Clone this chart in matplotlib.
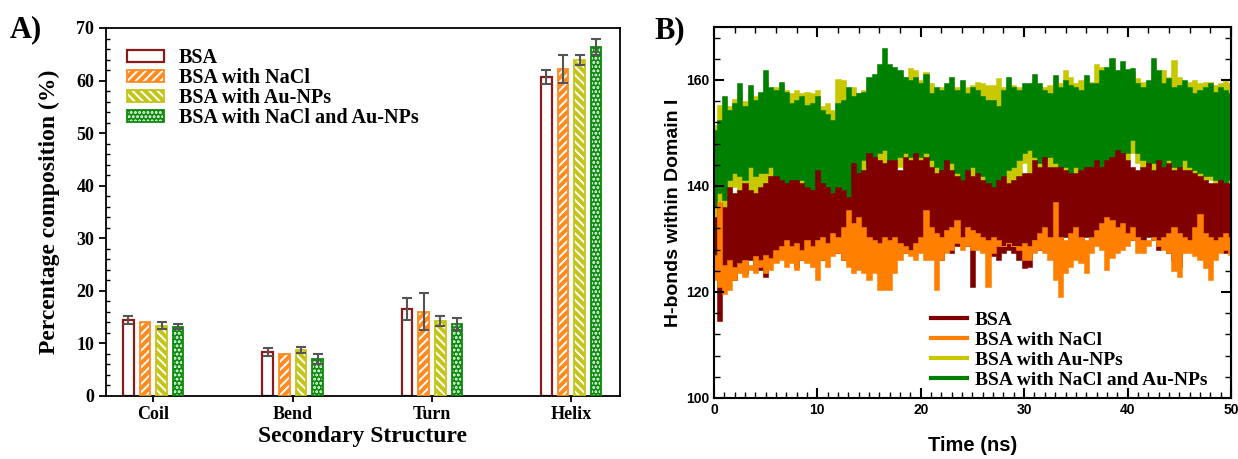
import numpy as np
import matplotlib
matplotlib.use('Agg')
import matplotlib.pyplot as plt
from matplotlib.patches import Patch
from matplotlib.lines import Line2D
from matplotlib.legend_handler import HandlerTuple
from matplotlib.ticker import MultipleLocator

# ---------------- Panel A data ----------------
structures = ['Coil', 'Bend', 'Turn', 'Helix']
systems = ['BSA', 'BSA with NaCl', 'BSA with Au-NPs', 'BSA with NaCl and Au-NPs']
comp_bsa = [14.5, 8.4, 16.5, 60.7]
err_bsa = [0.75, 0.7, 2.1, 1.3]
comp_nacl = [14.0, 8.0, 16.0, 62.2]
err_nacl = [np.nan, np.nan, 3.5, 2.7]
comp_au = [13.4, 8.8, 14.3, 63.9]
err_au = [0.6, 0.6, 1.0, 0.95]
comp_both = [13.2, 7.0, 13.7, 66.4]
err_both = [0.5, 0.95, 1.1, 1.5]

# ---------------- Panel B data (envelopes read every 0.5 ns) ----------------
time_ns = np.linspace(0, 50, 101)
green_hi = [150.6,152.5,156.9,154.3,155.6,159.4,155.0,159.0,156.2,157.8,161.9,158.7,158.1,159.7,157.8,155.6,156.2,156.9,155.3,155.6,
            156.9,154.3,153.5,152.5,155.6,156.2,158.7,156.9,157.5,157.8,160.6,161.2,163.1,166.0,163.0,162.5,161.9,160.6,160.0,160.6,
            159.4,161.2,157.5,158.7,158.1,159.4,160.6,158.1,160.0,157.5,158.7,158.1,156.9,156.2,156.2,155.0,158.1,160.6,158.7,158.1,
            159.4,159.4,161.2,159.4,158.1,157.5,161.0,158.7,160.0,159.0,158.7,158.1,161.0,159.4,159.4,161.9,162.5,164.1,161.9,163.5,
            162.0,162.2,159.4,158.7,160.0,164.1,161.9,159.4,160.3,158.7,159.0,160.0,158.7,157.5,158.1,158.7,159.4,157.8,158.7,158.1,
            157.5]
green_lo = [136.1,138.6,137.4,141.1,142.4,141.8,141.1,143.6,141.8,142.4,142.4,143.6,141.1,140.5,139.9,138.6,139.9,141.1,139.9,138.6,
            140.0,139.2,138.6,138.6,139.9,139.2,137.4,139.9,141.8,144.9,143.6,144.3,146.2,146.8,144.3,144.9,145.5,146.2,145.5,144.9,
            145.5,146.2,144.9,143.6,141.8,141.1,144.3,142.4,141.1,141.8,143.6,142.4,141.8,139.9,139.2,135.5,141.8,143.0,143.6,144.9,
            146.2,146.8,145.5,144.3,144.9,145.5,144.3,143.6,143.6,137.4,143.6,143.0,141.8,142.4,144.3,143.0,144.9,145.5,146.2,144.9,
            146.2,148.7,146.2,144.9,143.6,144.3,144.3,143.0,144.9,143.6,143.6,144.9,143.6,143.0,142.4,141.8,141.8,141.1,140.5,139.9,
            141.1]
yellow_hi = [151.5,155.3,156.0,155.0,156.5,158.0,156.0,158.0,156.9,157.5,160.0,158.0,158.7,159.0,158.1,157.5,158.1,157.5,157.8,157.5,
             158.1,155.0,155.6,154.3,160.2,160.0,158.1,158.7,157.5,158.1,159.4,160.0,161.2,163.0,162.0,161.9,161.2,160.6,162.2,161.9,
             160.0,161.6,159.4,158.1,158.7,158.1,159.7,158.7,159.4,158.7,159.1,159.7,159.4,159.1,159.0,160.3,158.7,159.4,159.1,158.7,
             158.7,158.7,160.0,158.7,158.7,159.1,160.3,159.4,161.9,160.6,159.4,160.0,160.3,159.7,163.1,162.5,161.9,162.5,161.2,162.2,
             161.6,161.6,160.3,159.7,159.4,162.5,161.2,161.9,160.6,163.8,160.6,159.4,159.7,160.0,159.4,159.7,159.7,159.1,159.4,159.8,
             159.4]
yellow_lo = [134.2,135.5,136.1,138.6,139.9,138.6,137.4,135.5,135.5,137.4,137.4,140.0,136.1,138.0,138.6,137.4,139.2,138.6,139.2,138.6,
             140.0,141.1,139.9,139.2,138.6,139.2,137.4,138.6,139.9,139.9,141.8,141.1,142.4,143.0,141.8,142.4,143.6,143.0,144.3,143.6,
             144.3,144.9,142.4,140.5,139.9,139.9,141.8,141.1,139.9,140.5,141.1,139.9,139.9,139.2,138.6,139.2,139.9,139.9,139.9,141.1,
             144.3,138.0,141.8,143.6,143.0,143.6,143.6,141.8,143.0,141.8,142.4,141.8,141.8,141.1,143.0,142.4,143.6,143.6,141.8,139.2,
             144.9,146.2,144.3,143.6,143.0,142.4,141.8,140.5,138.6,140.5,142.4,141.1,138.6,140.5,141.1,140.5,141.1,140.5,139.9,139.2,
             139.9]
red_hi = [134.2,136.7,136.1,139.9,138.6,139.2,140.5,139.2,138.6,139.9,140.5,141.8,141.8,141.1,140.5,141.1,141.1,140.5,139.9,139.2,
          143.0,140.5,139.9,138.6,139.9,139.2,138.0,144.3,142.4,143.0,146.2,145.5,144.9,144.3,144.9,144.9,143.0,145.5,144.9,146.2,
          144.9,145.5,143.6,142.4,143.0,144.9,143.0,141.8,141.1,143.0,141.8,142.4,141.1,140.5,139.9,141.1,141.8,140.5,141.1,141.8,
          142.4,142.4,144.9,143.6,145.5,143.6,143.6,143.6,143.0,142.4,142.4,143.0,143.6,143.6,144.9,143.6,144.9,145.5,146.8,146.2,
          144.9,143.6,143.0,143.6,144.3,143.0,144.9,143.6,144.3,143.0,143.6,143.0,143.0,142.4,141.8,141.1,140.5,140.5,141.1,140.5,
          140.5]
red_lo = [124.8,114.5,121.0,123.5,122.3,124.8,123.5,126.0,124.2,124.2,122.9,126.0,127.3,127.3,127.3,126.7,124.8,126.0,127.3,126.0,
          126.7,126.0,128.6,127.3,127.3,126.0,127.3,127.9,128.6,129.8,129.2,128.6,127.9,129.2,128.6,129.2,128.6,127.3,127.9,128.6,
          129.2,127.9,128.6,127.3,126.0,128.6,127.3,128.6,129.2,128.6,121.0,128.6,127.9,127.3,126.7,126.0,127.3,127.9,127.3,126.0,
          124.5,124.8,129.8,127.9,128.6,129.8,128.6,129.8,130.4,129.8,128.6,129.8,130.4,129.8,130.4,129.8,131.1,130.4,129.8,130.4,
          130.4,129.8,130.4,129.8,130.4,129.8,127.9,128.6,127.3,126.0,124.8,127.9,128.6,129.2,130.4,129.8,129.2,128.6,127.9,127.3,
          127.9]
orange_hi = [127.0,137.0,125.0,126.0,124.8,125.5,126.0,125.0,126.7,126.0,127.0,126.5,128.0,128.6,129.8,128.6,129.2,128.0,129.8,128.6,
             129.8,130.4,129.2,131.1,130.4,132.3,135.5,133.0,134.2,132.3,130.4,129.8,129.2,130.4,129.8,130.4,129.2,128.6,128.0,129.2,
             130.4,135.5,132.3,131.1,130.4,131.7,132.3,133.6,130.4,132.3,131.7,131.1,130.4,129.8,130.4,129.8,128.6,129.2,128.6,128.6,
             129.2,128.6,129.8,131.1,132.3,130.4,137.0,130.4,129.8,131.1,132.3,130.4,129.8,130.4,131.7,133.0,134.2,133.6,132.3,133.0,
             131.1,132.3,130.4,129.8,129.8,130.4,129.8,130.4,131.1,132.3,131.1,130.4,129.8,132.3,134.8,131.1,130.4,129.8,130.4,131.1,
             130.4]
orange_lo = [122.3,121.0,119.7,120.4,122.3,123.5,122.9,124.2,123.5,124.8,123.5,124.2,125.5,126.0,124.8,125.5,124.2,126.0,125.5,124.8,
             122.3,126.0,124.8,126.7,127.3,126.0,124.8,123.5,124.2,123.5,122.3,123.5,120.4,120.4,120.4,123.5,126.0,127.3,126.7,126.0,
             127.3,126.0,126.0,120.4,126.0,127.3,127.9,129.2,127.9,128.6,127.9,127.9,127.3,121.0,127.3,128.6,128.6,129.2,128.6,127.9,
             126.0,126.0,127.3,127.9,127.3,126.0,122.3,119.1,123.5,124.8,126.0,125.5,123.5,127.3,128.6,127.9,124.2,126.5,127.3,127.9,
             128.6,129.8,127.3,127.3,128.6,129.8,128.6,127.9,127.3,124.0,122.9,127.3,127.3,126.7,126.0,124.5,122.3,126.0,127.3,127.9,
             127.0]

SERIF = 'Liberation Serif'
SANS = 'Liberation Sans'

bar_red = '#8B1A1A'
bar_orange = '#FF8A1F'
bar_yellow = '#C4C41A'
bar_green = '#0C8A0C'
ln_red = '#800000'
ln_orange = '#FF8000'
ln_yellow = '#C8C800'
ln_green = '#008000'

plt.rcParams['hatch.linewidth'] = 1.4

fig = plt.figure(figsize=(12.38, 4.59), dpi=100)

# ================= Panel A =================
ax1 = fig.add_axes([0.0856, 0.1373, 0.4152, 0.8017])
x = np.arange(1, 5)
bw = 0.076
pitch = 0.119
pos = [x + k * pitch for k in (-1.5, -0.5, 0.5, 1.5)]

ax1.bar(pos[0], comp_bsa, bw, color='white', edgecolor=bar_red, linewidth=1.6, zorder=2)
ax1.bar(pos[1], comp_nacl, bw, color=bar_orange, edgecolor='white', hatch='////', linewidth=0, zorder=2)
ax1.bar(pos[1], comp_nacl, bw, fill=False, edgecolor=bar_orange, linewidth=1.3, zorder=3)
ax1.bar(pos[2], comp_au, bw, color=bar_yellow, edgecolor='white', hatch='\\\\\\\\', linewidth=0, zorder=2)
ax1.bar(pos[2], comp_au, bw, fill=False, edgecolor=bar_yellow, linewidth=1.3, zorder=3)
ax1.bar(pos[3], comp_both, bw, color=bar_green, edgecolor='white', hatch='....', linewidth=0, zorder=2)
ax1.bar(pos[3], comp_both, bw, fill=False, edgecolor=bar_green, linewidth=1.3, zorder=3)

for p, v, e in zip(pos, [comp_bsa, comp_nacl, comp_au, comp_both],
                   [err_bsa, err_nacl, err_au, err_both]):
    ax1.errorbar(p, v, yerr=e, fmt='none', ecolor='#555555', elinewidth=1.5,
                 capsize=3.8, capthick=1.5, zorder=5)

ax1.set_xlim(0.66, 4.35)
ax1.set_ylim(0, 70)
ax1.set_xticks(x)
ax1.set_xticklabels(structures)
ax1.yaxis.set_major_locator(MultipleLocator(10))
ax1.yaxis.set_minor_locator(MultipleLocator(2))
ax1.tick_params(axis='y', which='major', direction='out', length=5, width=1.3)
ax1.tick_params(axis='y', which='minor', direction='in', length=3, width=1.0)
ax1.tick_params(axis='x', which='major', direction='out', length=4, width=1.3)
for lab in ax1.get_xticklabels() + ax1.get_yticklabels():
    lab.set_fontfamily(SERIF)
    lab.set_fontweight('bold')
    lab.set_fontsize(13)
for s in ax1.spines.values():
    s.set_linewidth(1.3)
ax1.set_ylabel('Percentage composition (%)', fontfamily=SERIF, fontweight='bold', fontsize=17, labelpad=12)
ax1.set_xlabel('Secondary Structure', fontfamily=SERIF, fontweight='bold', fontsize=17, labelpad=2)

h_bsa = Patch(facecolor='white', edgecolor=bar_red, linewidth=1.6)
h_nacl = (Patch(facecolor=bar_orange, edgecolor='white', hatch='////', linewidth=0),
          Patch(fill=False, edgecolor=bar_orange, linewidth=1.3))
h_au = (Patch(facecolor=bar_yellow, edgecolor='white', hatch='\\\\\\\\', linewidth=0),
        Patch(fill=False, edgecolor=bar_yellow, linewidth=1.3))
h_both = (Patch(facecolor=bar_green, edgecolor='white', hatch='....', linewidth=0),
          Patch(fill=False, edgecolor=bar_green, linewidth=1.3))
ax1.legend([h_bsa, h_nacl, h_au, h_both], systems,
           handler_map={tuple: HandlerTuple(ndivide=1)},
           loc='upper left', bbox_to_anchor=(0.04, 0.945), frameon=False,
           prop={'family': SERIF, 'weight': 'bold', 'size': 14.5},
           handlelength=1.85, handleheight=0.5, labelspacing=0.0,
           handletextpad=0.75, borderaxespad=0, borderpad=0)

# ================= Panel B =================
ax2 = fig.add_axes([0.5767, 0.1329, 0.4176, 0.8083])
for lo, hi, c in [(yellow_lo, yellow_hi, ln_yellow), (green_lo, green_hi, ln_green),
                  (red_lo, red_hi, ln_red), (orange_lo, orange_hi, ln_orange)]:
    ax2.fill_between(time_ns, lo, hi, color=c, linewidth=0.4, edgecolor=c, step='mid')

ax2.set_xlim(0, 50)
ax2.set_ylim(100, 170)
ax2.xaxis.set_major_locator(MultipleLocator(10))
ax2.xaxis.set_minor_locator(MultipleLocator(1))
ax2.yaxis.set_major_locator(MultipleLocator(20))
ax2.yaxis.set_minor_locator(MultipleLocator(4))
ax2.tick_params(which='major', direction='in', length=7, width=1.5)
ax2.tick_params(which='minor', direction='in', length=4, width=1.0)
for s in ax2.spines.values():
    s.set_linewidth(1.5)

top = ax2.secondary_xaxis('top')
top.xaxis.set_major_locator(MultipleLocator(10))
top.xaxis.set_minor_locator(MultipleLocator(2))
top.tick_params(which='major', direction='in', length=7, width=1.5, labeltop=False)
top.tick_params(which='minor', direction='in', length=4, width=1.0)
right = ax2.secondary_yaxis('right')
right.yaxis.set_major_locator(MultipleLocator(20))
right.yaxis.set_minor_locator(MultipleLocator(4))
right.tick_params(which='major', direction='in', length=7, width=1.5, labelright=False)
right.tick_params(which='minor', direction='in', length=4, width=1.0)

for lab in ax2.get_xticklabels() + ax2.get_yticklabels():
    lab.set_fontfamily(SANS)
    lab.set_fontweight('bold')
    lab.set_fontsize(10)
ax2.set_ylabel('H-bonds within Domain I', fontfamily=SANS, fontweight='bold', fontsize=14, labelpad=3)
ax2.set_xlabel('Time (ns)', fontfamily=SANS, fontweight='bold', fontsize=14.5, labelpad=14)

lh = [Line2D([], [], color=c, lw=3) for c in (ln_red, ln_orange, ln_yellow, ln_green)]
ax2.legend(lh, systems, loc='lower left', bbox_to_anchor=(0.42, 0.025), frameon=False,
           prop={'family': SERIF, 'weight': 'bold', 'size': 14},
           handlelength=1.85, labelspacing=0.12, handletextpad=0.4,
           borderaxespad=0, borderpad=0)

fig.text(0.021, 0.935, 'A)', fontfamily=SERIF, fontweight='bold', fontsize=22, ha='center', va='center')
fig.text(0.541, 0.932, 'B)', fontfamily=SERIF, fontweight='bold', fontsize=22, ha='center', va='center')

fig.savefig('out.png', dpi=100)
